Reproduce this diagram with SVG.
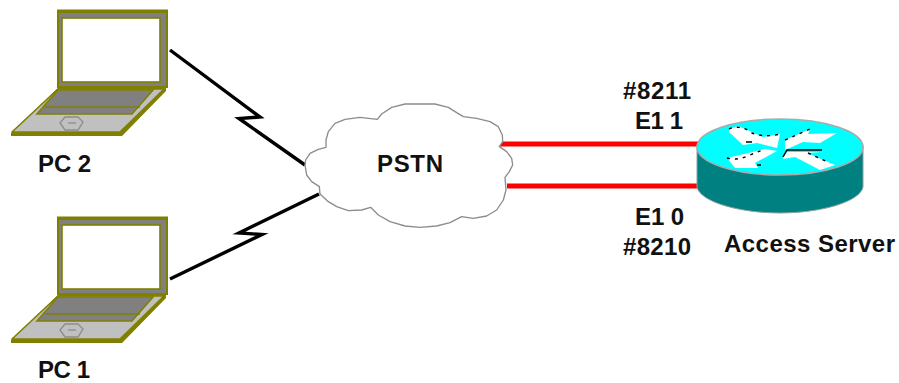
<svg xmlns="http://www.w3.org/2000/svg" xmlns:xlink="http://www.w3.org/1999/xlink" width="899" height="383" viewBox="0 0 899 383">
<style>
text{font-family:"Liberation Sans",Arial,sans-serif;font-weight:bold;font-size:24px;fill:#111}
.wan{fill:none;stroke:#000;stroke-width:3.4;stroke-linejoin:miter}
.e1{fill:none;stroke:#f00;stroke-width:5}
.dash{fill:none;stroke:#000;stroke-width:1.4;stroke-dasharray:3 5}
.ol{stroke:#808000;stroke-width:1.6}
</style>
<defs>
<g id="laptop">
<rect x="57" y="9.500" width="111" height="78.500" fill="#808000"/>
<rect x="59" y="13" width="107" height="73" fill="#808080"/>
<rect x="62" y="18" width="98" height="64" fill="#fff" class="ol"/>
<polygon points="166,88 166,91 122,136 11,136 11,133 58,88" fill="#808000"/>
<polygon points="58,89 164,89 120,132 12,132" fill="#c0c0c0" class="ol" stroke-linejoin="round"/>
<polygon points="58,90 153,90 132,114 37,114" fill="#808080" class="ol"/>
<line x1="45" y1="107" x2="140" y2="107" class="ol"/>
<polygon points="65,117 78,117 83,122 78,130 65,130 60,123" fill="none" stroke="#8c8c8c" stroke-width="1.3"/>
<line x1="68" y1="123" x2="76" y2="123" stroke="#8c8c8c" stroke-width="1.3"/>
</g>
</defs>
<g id="connectors">
<polyline class="wan" points="170,50 260,117 239,118.500 305,165"/>
<polyline class="wan" points="170,279 262,234.500 239,233 319,194"/>
<line class="e1" x1="498" y1="144" x2="698" y2="144"/>
<line class="e1" x1="507" y1="186" x2="698" y2="186"/>
</g>
<g id="pc2">
<use href="#laptop" xlink:href="#laptop"/>
<text x="38" y="172" textLength="53" lengthAdjust="spacing">PC 2</text>
</g>
<g id="pc1">
<use href="#laptop" xlink:href="#laptop" y="207"/>
<text x="38" y="378" textLength="52" lengthAdjust="spacing">PC 1</text>
</g>
<g id="pstn">
<path transform="translate(290 90) scale(.33333)" d="M45,225 L47,210 60,190 85,178 108,172 108,150 115,125 135,100 165,88 210,82 262,88 275,72 305,52 345,42 435,42 475,52 500,68 520,80 560,85 600,95 625,110 637,135 638,155 628,170 650,185 665,205 668,225 658,245 645,262 648,300 640,330 620,360 590,378 550,385 515,380 480,398 440,408 390,412 345,408 300,395 265,375 242,352 215,360 175,362 140,350 115,335 90,312 88,290 65,275 50,255 Z" fill="#fff" stroke="#8c8c8c" stroke-width="4" stroke-linejoin="round"/>
<text x="377" y="172" textLength="66" lengthAdjust="spacing">PSTN</text>
</g>
<g id="access-server">
<path d="M697,145 V187 C700,202 740,213 780,213 C820,213 860,202 863,187 V145 Z" fill="#008080" stroke="#8ca0a0" stroke-width="1"/>
<ellipse cx="780" cy="147" rx="83" ry="28" fill="#0ff" stroke="#aaa" stroke-width="1.500"/>
<g fill="#fff">
<polygon points="729,129 738,126 763,137 780,134 777,148 757,143 743,145 729,132"/>
<polygon points="785,140 810,129 808,134 837,133 820,143 803,142 785,150"/>
<polygon points="727,158 765,149 777,151 755,163 758,168 735,168"/>
<polygon points="783,157 787,152 820,152 807,153 835,165 820,170 795,157 783,159"/>
</g>
<path class="dash" d="M729,129 Q740,124 752,133 Q765,138 780,134"/>
<path class="dash" d="M785,140 L810,129"/>
<path class="dash" d="M727,158 Q737,161 750,155 L765,149"/>
<path class="dash" d="M808,153 L830,163"/>
<path d="M783,157 L787,150 H822" fill="none" stroke="#000" stroke-width="1.500"/>
<line x1="746" y1="142" x2="752" y2="142" stroke="#000" stroke-width="1.500"/>
<line x1="757" y1="165" x2="761" y2="165" stroke="#000" stroke-width="1.500"/>
<text x="724" y="252" textLength="171" lengthAdjust="spacing">Access Server</text>
</g>
<g id="labels">
<text x="623" y="99" textLength="68" lengthAdjust="spacing">#8211</text>
<text x="635" y="129" textLength="48" lengthAdjust="spacing">E1 1</text>
<text x="635" y="225" textLength="49" lengthAdjust="spacing">E1 0</text>
<text x="623" y="255" textLength="68" lengthAdjust="spacing">#8210</text>
</g>
</svg>
